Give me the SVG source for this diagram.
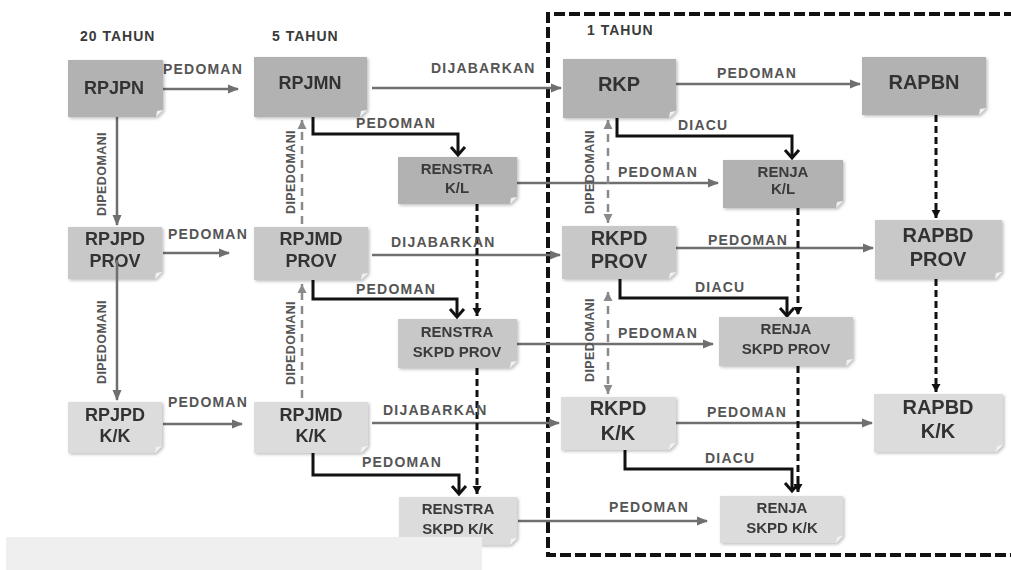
<svg xmlns="http://www.w3.org/2000/svg" width="1011" height="570" viewBox="0 0 1011 570">
<style>
text{font-family:"Liberation Sans",Arial,sans-serif;font-weight:bold}
.n1{fill:#b2b2b2}
.n2{fill:#c8c8c8}
.n3{fill:#dcdcdc}
.fold{fill:#f2f2f2}
.tl{font-size:18px;fill:#333;text-anchor:middle}
.tx{font-size:20px;fill:#333;text-anchor:middle}
.ts{font-size:15px;fill:#3a3a3a;text-anchor:middle}
.hd{font-size:14px;fill:#3a3a3a;letter-spacing:1px}
.lb{font-size:14px;fill:#555;letter-spacing:1.2px}
.vl{font-size:12.5px;fill:#555;text-anchor:middle;letter-spacing:0.4px}
.g{fill:none;stroke:#6f6f6f;stroke-width:2.5}
.gd{fill:none;stroke:#8a8a8a;stroke-width:2.5;stroke-dasharray:8 6}
.k{fill:none;stroke:#111;stroke-width:3}
.kd{fill:none;stroke:#111;stroke-width:3;stroke-dasharray:7 4}
.box{fill:none;stroke:#111;stroke-width:4;stroke-dasharray:11 4}
</style>
<defs>
<filter id="sh" x="-10%" y="-10%" width="125%" height="130%">
<feDropShadow dx="1.5" dy="1.5" stdDeviation="1.5" flood-color="#000" flood-opacity="0.25"/>
</filter>
<marker id="ag" markerUnits="userSpaceOnUse" markerWidth="12" markerHeight="10" refX="10" refY="0" orient="auto" overflow="visible">
<path d="M0,-4.5 L11,0 L0,4.5 Z" fill="#6f6f6f"/>
</marker>
<marker id="agd" markerUnits="userSpaceOnUse" markerWidth="10" markerHeight="10" refX="9" refY="0" orient="auto-start-reverse" overflow="visible">
<path d="M0,-4.5 L9,0 L0,4.5 Z" fill="#8a8a8a"/>
</marker>
<marker id="ak" markerUnits="userSpaceOnUse" markerWidth="12" markerHeight="16" refX="8" refY="0" orient="auto" overflow="visible">
<path d="M0,-7 L8,0 L0,7" fill="none" stroke="#111" stroke-width="3"/>
</marker>
<marker id="akd" markerUnits="userSpaceOnUse" markerWidth="10" markerHeight="10" refX="8" refY="0" orient="auto" overflow="visible">
<path d="M0,-4.5 L8,0 L0,4.5 Z" fill="#111"/>
</marker>
</defs>
<rect width="1011" height="570" fill="#fff"/>

<g id="headers">
<text class="hd" x="80" y="41">20 TAHUN</text>
<text class="hd" x="272" y="41">5 TAHUN</text>
<text class="hd" x="587" y="35">1 TAHUN</text>
</g>

<g id="frame-1-tahun">
<path class="box" d="M1030,14 H548 V555 H1030"/>
</g>

<g id="connectors">
<path class="g" d="M163,89 H238" marker-end="url(#ag)"/>
<path class="g" d="M372,88 H561" marker-end="url(#ag)"/>
<path class="g" d="M676,84 H860" marker-end="url(#ag)"/>
<path class="g" d="M117,117 V225" marker-end="url(#ag)"/>
<path class="g" d="M163,253 H229" marker-end="url(#ag)"/>
<path class="g" d="M163,424 H242" marker-end="url(#ag)"/>
<path class="gd" d="M302,224 V120" marker-end="url(#agd)"/>
<path class="gd" d="M302,398 V284" marker-end="url(#agd)"/>
<path class="k" d="M313,117 V134 H458 V155" marker-end="url(#ak)"/>
<path class="k" d="M313,280 V299 H457 V317" marker-end="url(#ak)"/>
<path class="k" d="M313,453 V475 H459 V494" marker-end="url(#ak)"/>
<path class="g" d="M372,255 H560" marker-end="url(#ag)"/>
<path class="g" d="M372,423 H559" marker-end="url(#ag)"/>
<path class="g" d="M517,183 H718" marker-end="url(#ag)"/>
<path class="g" d="M517,344 H713" marker-end="url(#ag)"/>
<path class="g" d="M518,521 H707" marker-end="url(#ag)"/>
<path class="k" d="M617,118 V136 H792 V158" marker-end="url(#ak)"/>
<path class="k" d="M620,279 V298 H787 V316" marker-end="url(#ak)"/>
<path class="k" d="M625,450 V469 H792 V491" marker-end="url(#ak)"/>
<path class="g" d="M676,248 H873" marker-end="url(#ag)"/>
<path class="g" d="M676,423 H872" marker-end="url(#ag)"/>
<path class="kd" d="M477,204 V316" marker-end="url(#akd)"/>
<path class="kd" d="M477,368 V494" marker-end="url(#akd)"/>
<path class="kd" d="M798,208 V315" marker-end="url(#akd)"/>
<path class="kd" d="M798,366 V492" marker-end="url(#akd)"/>
<path class="kd" d="M936,115 V218" marker-end="url(#akd)"/>
<path class="kd" d="M936,279 V392" marker-end="url(#akd)"/>
<path class="gd" d="M608,120 V223" marker-start="url(#agd)" marker-end="url(#agd)"/>
<path class="gd" d="M608,292 V394" marker-start="url(#agd)" marker-end="url(#agd)"/>

<text class="lb" x="163" y="74">PEDOMAN</text>
<text class="lb" x="431" y="73">DIJABARKAN</text>
<text class="lb" x="717" y="78">PEDOMAN</text>
<text class="lb" x="356" y="128">PEDOMAN</text>
<text class="lb" x="678" y="130">DIACU</text>
<text class="lb" x="618" y="177">PEDOMAN</text>
<text class="lb" x="168" y="239">PEDOMAN</text>
<text class="lb" x="391" y="247">DIJABARKAN</text>
<text class="lb" x="708" y="245">PEDOMAN</text>
<text class="lb" x="356" y="294">PEDOMAN</text>
<text class="lb" x="695" y="292">DIACU</text>
<text class="lb" x="618" y="338">PEDOMAN</text>
<text class="lb" x="168" y="407">PEDOMAN</text>
<text class="lb" x="383" y="415">DIJABARKAN</text>
<text class="lb" x="707" y="417">PEDOMAN</text>
<text class="lb" x="362" y="467">PEDOMAN</text>
<text class="lb" x="705" y="463">DIACU</text>
<text class="lb" x="609" y="512">PEDOMAN</text>

<text class="vl" x="106" y="174" transform="rotate(-90 106 174)">DIPEDOMANI</text>
<text class="vl" x="106" y="342" transform="rotate(-90 106 342)">DIPEDOMANI</text>
<text class="vl" x="295" y="172" transform="rotate(-90 295 172)">DIPEDOMANI</text>
<text class="vl" x="295" y="343" transform="rotate(-90 295 343)">DIPEDOMANI</text>
<text class="vl" x="594" y="172" transform="rotate(-90 594 172)">DIPEDOMANI</text>
<text class="vl" x="594" y="340" transform="rotate(-90 594 340)">DIPEDOMANI</text>
</g>

<g id="RPJPN" filter="url(#sh)"><path class="n1" d="M68,60H163V110L156,117H68Z"/><path class="fold" d="M163,110L156,117L157,111Z"/><text class="tl" x="114" y="94">RPJPN</text></g>
<g id="RPJMN" filter="url(#sh)"><path class="n1" d="M254,57H367V110L360,117H254Z"/><path class="fold" d="M367,110L360,117L361,111Z"/><text class="tl" x="310" y="89">RPJMN</text></g>
<g id="RKP" filter="url(#sh)"><path class="n1" d="M563,59H676V111L669,118H563Z"/><path class="fold" d="M676,111L669,118L670,112Z"/><text class="tx" x="619" y="91">RKP</text></g>
<g id="RAPBN" filter="url(#sh)"><path class="n1" d="M862,57H986V108L979,115H862Z"/><path class="fold" d="M986,108L979,115L980,109Z"/><text class="tx" x="924" y="89">RAPBN</text></g>
<g id="RENSTRA-KL" filter="url(#sh)"><path class="n1" d="M398,157H517V197L510,204H398Z"/><path class="fold" d="M517,197L510,204L511,198Z"/><text class="ts" x="457" y="174">RENSTRA</text><text class="ts" x="457" y="193">K/L</text></g>
<g id="RENJA-KL" filter="url(#sh)"><path class="n1" d="M723,160H843V201L836,208H723Z"/><path class="fold" d="M843,201L836,208L837,202Z"/><text class="ts" x="783" y="177">RENJA</text><text class="ts" x="783" y="194">K/L</text></g>

<g id="RPJPD-PROV" filter="url(#sh)"><path class="n2" d="M68,227H162V272L155,279H68Z"/><path class="fold" d="M162,272L155,279L156,273Z"/><text class="tl" x="115" y="245">RPJPD</text><text class="tl" x="115" y="267">PROV</text></g>
<g id="RPJMD-PROV" filter="url(#sh)"><path class="n2" d="M254,227H368V273L361,280H254Z"/><path class="fold" d="M368,273L361,280L362,274Z"/><text class="tl" x="311" y="245">RPJMD</text><text class="tl" x="311" y="267">PROV</text></g>
<g id="RKPD-PROV" filter="url(#sh)"><path class="n2" d="M562,226H676V272L669,279H562Z"/><path class="fold" d="M676,272L669,279L670,273Z"/><text class="tx" x="619" y="245">RKPD</text><text class="tx" x="619" y="268">PROV</text></g>
<g id="RAPBD-PROV" filter="url(#sh)"><path class="n2" d="M875,220H1002V272L995,279H875Z"/><path class="fold" d="M1002,272L995,279L996,273Z"/><text class="tx" x="938" y="242">RAPBD</text><text class="tx" x="938" y="266">PROV</text></g>
<g id="RENSTRA-SKPD-PROV" filter="url(#sh)"><path class="n2" d="M398,319H517V361L510,368H398Z"/><path class="fold" d="M517,361L510,368L511,362Z"/><text class="ts" x="457" y="337">RENSTRA</text><text class="ts" x="457" y="357">SKPD PROV</text></g>
<g id="RENJA-SKPD-PROV" filter="url(#sh)"><path class="n2" d="M719,317H853V359L846,366H719Z"/><path class="fold" d="M853,359L846,366L847,360Z"/><text class="ts" x="786" y="334">RENJA</text><text class="ts" x="786" y="354">SKPD PROV</text></g>

<g id="RPJPD-KK" filter="url(#sh)"><path class="n3" d="M68,402H162V446L155,453H68Z"/><path class="fold" d="M162,446L155,453L156,447Z"/><text class="tl" x="115" y="421">RPJPD</text><text class="tl" x="115" y="442">K/K</text></g>
<g id="RPJMD-KK" filter="url(#sh)"><path class="n3" d="M254,402H368V446L361,453H254Z"/><path class="fold" d="M368,446L361,453L362,447Z"/><text class="tl" x="311" y="421">RPJMD</text><text class="tl" x="311" y="442">K/K</text></g>
<g id="RKPD-KK" filter="url(#sh)"><path class="n3" d="M561,397H676V443L669,450H561Z"/><path class="fold" d="M676,443L669,450L670,444Z"/><text class="tx" x="618" y="415">RKPD</text><text class="tx" x="618" y="440">K/K</text></g>
<g id="RAPBD-KK" filter="url(#sh)"><path class="n3" d="M874,394H1003V445L996,452H874Z"/><path class="fold" d="M1003,445L996,452L997,446Z"/><text class="tx" x="938" y="414">RAPBD</text><text class="tx" x="938" y="438">K/K</text></g>
<g id="RENSTRA-SKPD-KK" filter="url(#sh)"><path class="n3" d="M399,497H517V538L510,545H399Z"/><path class="fold" d="M517,538L510,545L511,539Z"/><text class="ts" x="458" y="514">RENSTRA</text><text class="ts" x="458" y="534">SKPD K/K</text></g>
<g id="RENJA-SKPD-KK" filter="url(#sh)"><path class="n3" d="M720,496H843V536L836,543H720Z"/><path class="fold" d="M843,536L836,543L837,537Z"/><text class="ts" x="782" y="513">RENJA</text><text class="ts" x="782" y="533">SKPD K/K</text></g>

<g id="connector-over-node">
<path class="g" d="M117,260 V400" marker-end="url(#ag)"/>
</g>

<rect x="6" y="537" width="476" height="33" fill="#efefef"/>
</svg>
